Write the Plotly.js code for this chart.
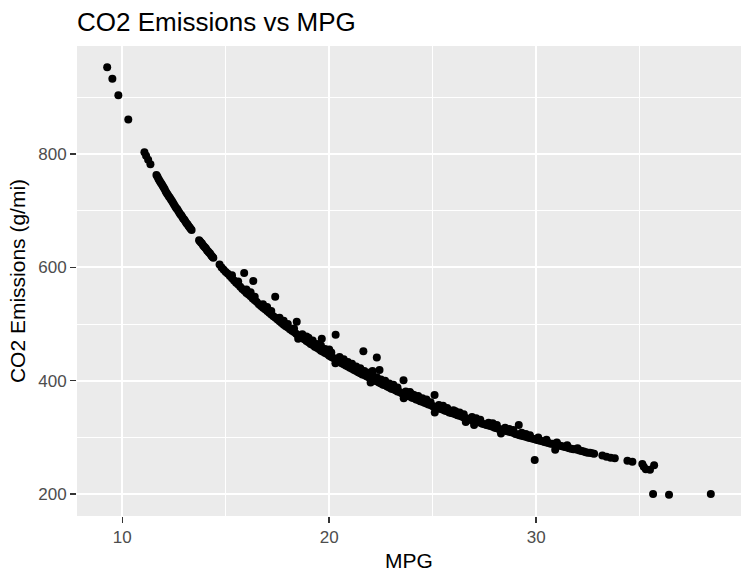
<!DOCTYPE html>
<html>
<head>
<meta charset="utf-8">
<script src="https://cdn.plot.ly/plotly-3.0.1.min.js"></script>
<style>html,body{margin:0;padding:0;background:#fff;}#chart{width:751px;height:582px;}</style>
</head>
<body>
<div id="chart"></div>
<script>
// Main band of points along the curve (MPG, g/mi)
var mainMpg = [11.07,11.15,11.25,11.36,
  11.65,11.75,11.85,11.95,12.05,12.15,12.25,12.35,12.45,12.55,12.65,12.75,12.85,12.95,13.05,13.15,13.25,13.35,
  13.71,13.8,13.9,14.0,14.1,14.2,14.3,14.4,
  14.7,14.8,14.9,15.0,15.1,15.2,15.3,15.4,15.5,15.6,15.7,15.8,15.9,16.0,16.1,16.2,16.3,16.4,16.5,16.6,
  16.7,16.8,16.9,17.0,17.1,17.2,17.3,17.4,17.5,17.6,17.7,17.8,17.9,18.0,18.1,18.2,18.3,18.4,18.5,18.6,
  18.7,18.8,18.9,19.0,19.1,19.2,19.3,19.4,19.5,19.6,19.7,19.8,19.9,20.0,20.1,20.2,20.3,20.4,20.5,20.6,
  20.7,20.8,20.9,21.0,
  21.2,21.4,21.6,21.8,22.0,22.2,22.4,22.6,22.8,23.0,23.2,23.4,23.6,23.8,24.0,24.2,24.4,24.6,24.8,25.0,
  25.2,25.4,25.6,25.8,26.0,26.2,26.4,26.6,26.8,27.0,27.2,27.4,27.6,27.8,28.0,28.2,28.4,28.6,28.8,29.0,
  29.2,29.4,29.6,29.8,30.0,30.2,30.4,30.6,30.8,31.0,31.2,31.4,31.6,31.8,32.0,32.2,32.4,32.6,32.8,
  33.2,33.4,33.6,33.8,
  34.41,34.65,35.13,35.2,35.3,35.5,35.7];
var mainCo2 = [803,797,790,782,
  763,756,750,744,738,731,725,720,714,708,703,697,692,686,681,676,671,666,
  648,644,639,635,630,626,621,617,
  605,600,596,592,589,585,581,577,573,570,566,562,559,555,552,549,545,542,539,535,
  532,529,526,523,520,517,514,511,508,505,502,499,496,494,491,488,486,483,480,478,
  475,473,470,468,465,463,460,458,456,453,451,449,447,444,442,440,438,436,434,431,
  429,427,425,423,
  419,415,411,408,404,400,397,393,390,386,383,380,377,373,370,367,364,361,358,355,
  353,350,347,344,342,339,337,334,332,329,327,324,322,320,317,315,313,311,309,306,
  304,302,300,298,296,294,292,290,289,287,285,283,281,279,278,276,274,273,271,
  268,266,264,263,
  259,257,253,248,244,243,251];

// Extra points filling the band between the ones above
var fillMpg = [11.7,11.8,11.9,12.0,12.1,12.2,12.3,12.4,12.5,12.6,12.7,12.8,12.9,13.0,13.1,13.2,13.3,
  13.75,13.85,13.95,14.05,14.15,14.25,14.35,
  21.1,21.3,21.5,21.7,21.9,22.1,22.3,22.5,22.7,22.9,23.1,23.3,23.5,23.7,23.9,24.1,24.3,24.5,24.7,24.9,
  25.1,25.3,25.5,25.7,25.9,26.1,26.3,26.5,26.7,26.9,27.1,27.3,27.5,27.7,27.9,28.1,28.3,28.5,28.7,28.9,
  29.1,29.3,29.5,29.7,29.9,30.1,30.3,30.5,30.7,30.9,31.1,31.3,31.5,31.7,31.9,32.1,32.3,32.5,32.7];
var fillCo2 = [760,753,747,741,734,728,723,717,711,705,700,694,689,684,678,673,668,
  646,642,637,633,628,624,619,
  421,417,413,410,406,402,399,395,392,388,385,381,378,375,372,369,366,363,360,357,
  354,351,349,346,343,341,338,335,333,330,328,326,323,321,319,316,314,312,310,308,
  305,303,301,299,297,295,293,291,289,288,286,284,282,280,279,277,275,273,272];

// Points giving the band its thickness
var spreadMpg = [15.3,15.6,16.0,16.4,16.8,17.2,17.6,18.0,18.3,18.7,19.0,19.4,19.8,20.1,20.5,20.9,21.3,21.7,
  22.1,22.5,22.9,23.3,23.7,24.1,24.5,24.9,25.3,25.7,26.1,26.5,26.9,27.3,27.7,28.1,28.5,28.9,29.3,29.7,
  30.1,30.5,31.0,31.5,32.0,
  18.5,20.3,22.0,23.6,25.1,26.6,28.3,30.92,27.0,
  16.2,17.0,17.8,18.9,19.2,19.6,20.0,20.7,21.1,21.5,21.9,22.7,23.1,23.9,24.3,24.7,25.5,26.3,27.1,27.9,
  28.7,29.5,26.0,24.0,22.3];
var spreadCo2 = [586,575,561,548,535,523,511,500,492,482,476,465,456,450,442,433,425,417,
  409,402,395,388,381,375,369,362,357,352,346,341,336,331,326,322,317,313,308,304,
  300,296,291,286,281,
  474,431,397,369,344,327,307,278,322,
  556,530,506,478,471,462,455,438,430,422,414,400,393,380,373,367,356,344,334,325,
  315,306,348,376,406];

// Isolated points
var outlierMpg = [9.27,9.52,9.81,10.29,15.89,16.33,17.39,18.43,19.64,20.31,21.65,22.3,22.43,22.09,23.59,25.09,29.16,29.93,35.65,36.42,38.44];
var outlierCo2 = [953,933,904,861,590,576,548,504,474,481,452,441,419,417,401,375,322,260,200,199,200];

var xs = mainMpg.concat(fillMpg, spreadMpg, outlierMpg);
var ys = mainCo2.concat(fillCo2, spreadCo2, outlierCo2);

function expanded(a){
  var mn = Math.min.apply(null,a), mx = Math.max.apply(null,a), d = (mx-mn)*0.05;
  return [mn-d, mx+d];
}

var trace = {
  x: xs, y: ys, type: 'scatter', mode: 'markers',
  marker: {color: '#000000', size: 8, line: {width: 0}},
  hoverinfo: 'x+y', showlegend: false
};

var fontFam = '"Liberation Sans", Arial, Helvetica, sans-serif';
var layout = {
  width: 751, height: 582,
  paper_bgcolor: '#FFFFFF', plot_bgcolor: '#EBEBEB',
  font: {family: fontFam, color: '#000000'},
  margin: {l: 77, r: 10, t: 46, b: 66, pad: 0},
  title: {text: 'CO2 Emissions vs MPG', font: {family: fontFam, size: 26, color: '#000000'},
    x: 77/751, xref: 'container', xanchor: 'left', y: 1-22/582, yref: 'container', yanchor: 'middle'},
  xaxis: {
    range: expanded(xs), tick0: 0, dtick: 10, ticks: 'outside', ticklen: 6, tickwidth: 1.5, tickcolor: '#333333',
    tickfont: {family: fontFam, size: 17, color: '#4D4D4D'},
    showgrid: true, gridcolor: '#FFFFFF', gridwidth: 2, zeroline: false, showline: false,
    minor: {tick0: 0, dtick: 5, showgrid: true, gridcolor: '#FFFFFF', gridwidth: 1, ticks: ''},
    title: {text: 'MPG', font: {family: fontFam, size: 21, color: '#000000'}, standoff: 6}
  },
  yaxis: {
    range: expanded(ys), tick0: 0, dtick: 200, ticks: 'outside', ticklen: 6, tickwidth: 1.5, tickcolor: '#333333',
    tickfont: {family: fontFam, size: 17, color: '#4D4D4D'},
    showgrid: true, gridcolor: '#FFFFFF', gridwidth: 2, zeroline: false, showline: false,
    minor: {tick0: 0, dtick: 100, showgrid: true, gridcolor: '#FFFFFF', gridwidth: 1, ticks: ''},
    title: {text: 'CO2 Emissions (g/mi)', font: {family: fontFam, size: 21, color: '#000000'}, standoff: 6}
  }
};

Plotly.newPlot('chart', [trace], layout, {displayModeBar: false, staticPlot: true});
</script>
</body>
</html>
